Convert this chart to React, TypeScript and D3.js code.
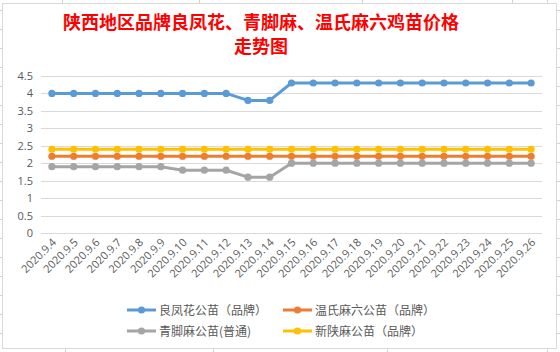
import React from "react";
import * as d3 from "d3";

const categories = ["2020.9.4","2020.9.5","2020.9.6","2020.9.7","2020.9.8","2020.9.9","2020.9.10","2020.9.11","2020.9.12","2020.9.13","2020.9.14","2020.9.15","2020.9.16","2020.9.17","2020.9.18","2020.9.19","2020.9.20","2020.9.21","2020.9.22","2020.9.23","2020.9.24","2020.9.25","2020.9.26"];
const lianfenghua = [4,4,4,4,4,4,4,4,4,3.8,3.8,4.3,4.3,4.3,4.3,4.3,4.3,4.3,4.3,4.3,4.3,4.3,4.3];
const wenshi = [2.2,2.2,2.2,2.2,2.2,2.2,2.2,2.2,2.2,2.2,2.2,2.2,2.2,2.2,2.2,2.2,2.2,2.2,2.2,2.2,2.2,2.2,2.2];
const qingjiao = [1.9,1.9,1.9,1.9,1.9,1.9,1.8,1.8,1.8,1.6,1.6,2,2,2,2,2,2,2,2,2,2,2,2];
const xinshan = [2.4,2.4,2.4,2.4,2.4,2.4,2.4,2.4,2.4,2.4,2.4,2.4,2.4,2.4,2.4,2.4,2.4,2.4,2.4,2.4,2.4,2.4,2.4];
const yTicks = [0,0.5,1,1.5,2,2.5,3,3.5,4,4.5];
const seriesNames = ["良凤花公苗（品牌）","温氏麻六公苗（品牌）","青脚麻公苗(普通)","新陕麻公苗（品牌）"];
const titleLines = ["陕西地区品牌良凤花、青脚麻、温氏麻六鸡苗价格","走势图"];

const colors = ["#5B9BD5","#ED7D31","#A5A5A5","#FFC000"];
const seriesData = [lianfenghua, wenshi, qingjiao, xinshan];

export default function App() {
  const W = 560, H = 352;
  const x = d3.scaleBand<string>().domain(categories).range([41, 542]).paddingInner(0).paddingOuter(0);
  const y = d3.scaleLinear().domain([0, 4.5]).range([233, 76]);
  const cx = (c: string) => (x(c) as number) + x.bandwidth() / 2;
  const line = d3.line<number>().x((_, i) => cx(categories[i])).y(d => y(d));
  const textColor = "#595959";
  const font = "'Open Sans', 'Noto Sans CJK SC', sans-serif";

  const legendPos = [
    { lx: 127, ly: 310 }, { lx: 283, ly: 310 },
    { lx: 127, ly: 331 }, { lx: 283, ly: 331 },
  ];

  return (
    <svg width={W} height={H} style={{ position: "absolute", left: 0, top: 0 }} xmlns="http://www.w3.org/2000/svg">
      <rect x={0} y={0} width={W} height={H} fill="#fff" />
      {/* spreadsheet gridlines outside chart */}
      {[62, 199, 362, 512, 547].map(v => <line key={"t"+v} x1={v+0.5} x2={v+0.5} y1={0} y2={3} stroke="#D4D4D4" />)}
      {[65, 213, 387, 547].map(v => <line key={"b"+v} x1={v+0.5} x2={v+0.5} y1={349} y2={352} stroke="#D4D4D4" />)}
      {[10, 29, 48, 67, 86, 105, 124, 143, 162, 181, 200, 219, 238, 257, 276, 295, 314, 333].map(v => (
        <g key={"r"+v}>
          <line x1={0} x2={2} y1={v+0.5} y2={v+0.5} stroke="#D4D4D4" />
          <line x1={557} x2={560} y1={v+0.5} y2={v+0.5} stroke="#D4D4D4" />
        </g>
      ))}
      <rect x={2.5} y={3.5} width={554} height={345} fill="#fff" stroke="#D9D9D9" />
      {titleLines.map((t, i) => (
        <text key={t} x={261} y={29 + i * 24} textAnchor="middle" fill="#FF0000" fontSize={18} fontWeight="bold" fontFamily="'Noto Sans CJK SC', sans-serif">{t}</text>
      ))}
      {yTicks.map(t => (
        <g key={t}>
          <line x1={41} x2={542} y1={Math.round(y(t)) + 0.5} y2={Math.round(y(t)) + 0.5} stroke="#D9D9D9" strokeWidth={1} />
          <text x={33} y={y(t) + 4} textAnchor="end" fontSize={11} fill={textColor} fontFamily={font}>{t}</text>
        </g>
      ))}
      {categories.map(c => (
        <text key={c} transform={`translate(${cx(c) + 5},${243}) rotate(-45)`} textAnchor="end" fontSize={11} fill={textColor} fontFamily={font}>{c}</text>
      ))}
      {seriesData.map((s, k) => (
        <g key={k}>
          <path d={line(s) as string} fill="none" stroke={colors[k]} strokeWidth={3} strokeLinejoin="round" />
          {s.map((v, i) => <circle key={i} cx={cx(categories[i])} cy={y(v)} r={3.6} fill={colors[k]} />)}
        </g>
      ))}
      {seriesNames.map((n, k) => (
        <g key={n}>
          <line x1={legendPos[k].lx} x2={legendPos[k].lx + 29} y1={legendPos[k].ly} y2={legendPos[k].ly} stroke={colors[k]} strokeWidth={3} />
          <circle cx={legendPos[k].lx + 14.5} cy={legendPos[k].ly} r={3.6} fill={colors[k]} />
          <text x={legendPos[k].lx + 32} y={legendPos[k].ly + 4.5} fontSize={12} fill={textColor} fontFamily="'Noto Sans CJK SC', sans-serif">{n}</text>
        </g>
      ))}
    </svg>
  );
}
